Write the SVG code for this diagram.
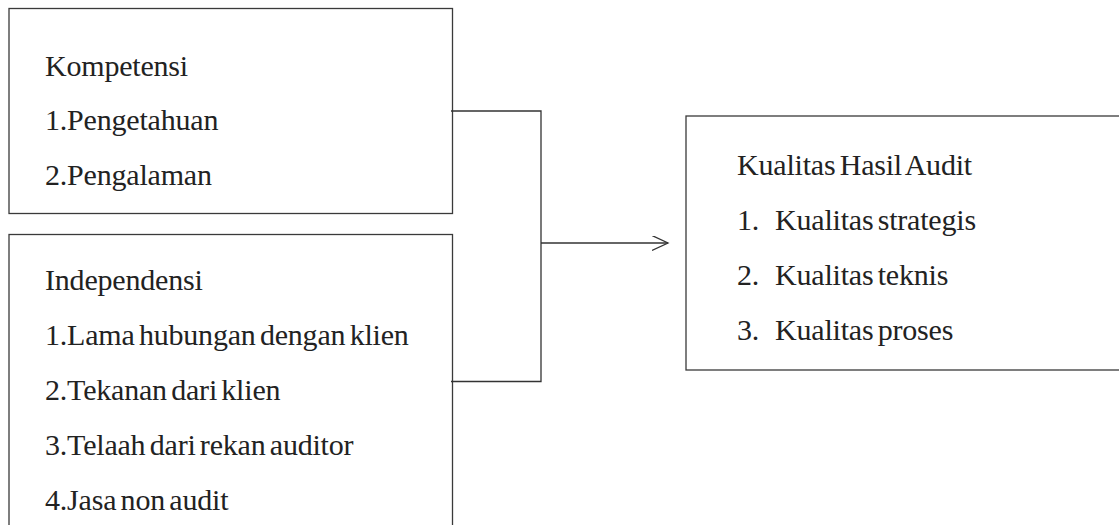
<svg xmlns="http://www.w3.org/2000/svg" width="1119" height="525" viewBox="0 0 1119 525">
<style>
.box{fill:#fff;stroke:#3a3a3a;stroke-width:1.3}
.t{font-family:"Liberation Serif","Times New Roman",serif;font-size:30px;fill:#222;word-spacing:-3px;letter-spacing:-0.2px}
.c{fill:none;stroke:#333;stroke-width:1.3}
</style>
<defs>
<marker id="arr" markerWidth="20" markerHeight="20" refX="16" refY="7.5" orient="auto" markerUnits="userSpaceOnUse">
<path d="M0,0 L16,7.5 L0,15" fill="none" stroke="#333" stroke-width="1.3"/>
</marker>
</defs>
<rect width="1119" height="525" fill="#fff"/>
<g id="kompetensi">
<rect class="box" x="9" y="8.5" width="443.5" height="205"/>
<text class="t" x="45" y="76">Kompetensi</text>
<text class="t" x="45" y="130">1.Pengetahuan</text>
<text class="t" x="45" y="185">2.Pengalaman</text>
</g>
<g id="independensi">
<rect class="box" x="9" y="234.5" width="443.5" height="300"/>
<text class="t" x="45" y="290">Independensi</text>
<text class="t" x="45" y="345">1.Lama hubungan dengan klien</text>
<text class="t" x="45" y="400">2.Tekanan dari klien</text>
<text class="t" x="45" y="455">3.Telaah dari rekan auditor</text>
<text class="t" x="45" y="510">4.Jasa non audit</text>
</g>
<g id="kualitas">
<rect class="box" x="686" y="116" width="440" height="254"/>
<text class="t" x="737" y="175">Kualitas Hasil Audit</text>
<text class="t" x="737" y="230">1.</text><text class="t" x="775" y="230">Kualitas strategis</text>
<text class="t" x="737" y="285">2.</text><text class="t" x="775" y="285">Kualitas teknis</text>
<text class="t" x="737" y="340">3.</text><text class="t" x="775" y="340">Kualitas proses</text>
</g>
<g id="connectors">
<path class="c" d="M451,111 H541 V381.5 H451"/>
<path class="c" d="M541,243 H668" marker-end="url(#arr)"/>
</g>
</svg>
